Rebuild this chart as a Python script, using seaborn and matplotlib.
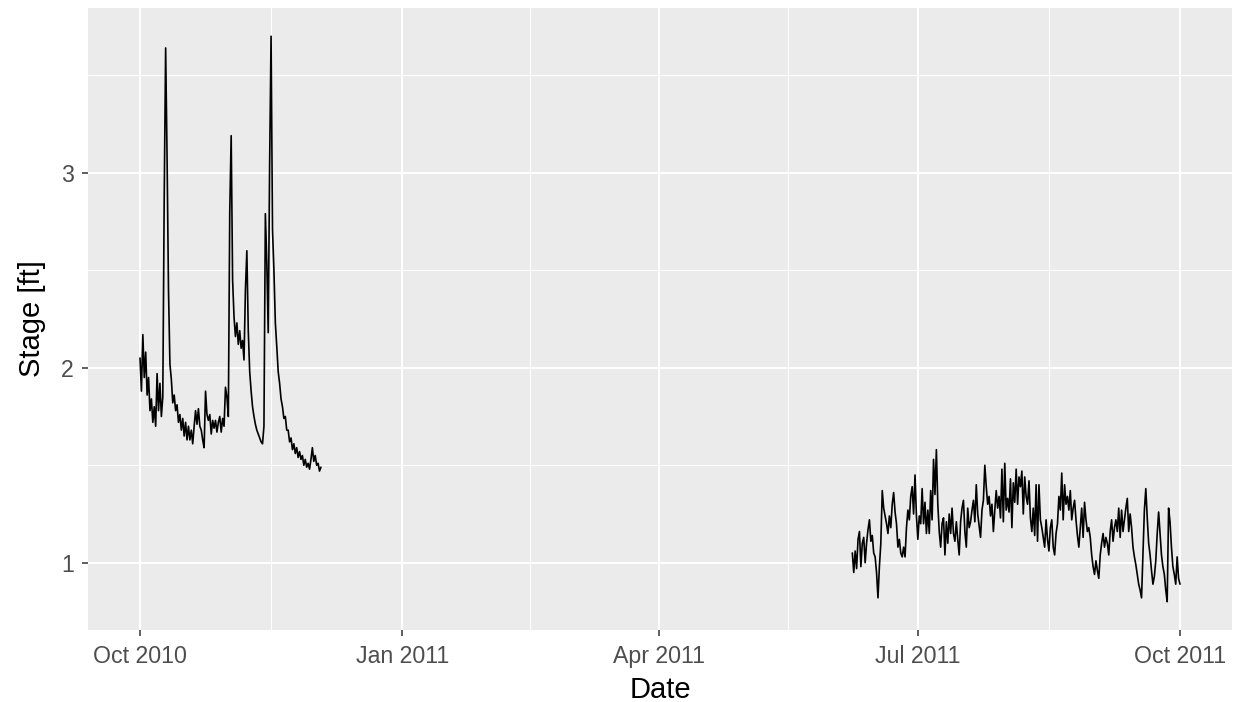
import numpy as np
import pandas as pd
import matplotlib
matplotlib.use("Agg")
import matplotlib.pyplot as plt
import matplotlib.dates as mdates
from matplotlib.ticker import FixedLocator
import seaborn as sns

# ---------------- data (12-hourly stage readings, ft) ----------------
fall_start = "2010-10-01"
fall_stage = [
    2.05, 1.88, 2.17, 1.95, 2.08, 1.86, 1.95, 1.78, 1.84, 1.72,
    1.80, 1.70, 1.97, 1.78, 1.92, 1.75, 1.85, 2.88, 3.64, 3.08,
    2.40, 2.02, 1.94, 1.82, 1.86, 1.78, 1.81, 1.72, 1.76, 1.68,
    1.74, 1.65, 1.72, 1.63, 1.70, 1.63, 1.68, 1.61, 1.70, 1.78,
    1.71, 1.79, 1.70, 1.68, 1.63, 1.59, 1.88, 1.76, 1.73, 1.76,
    1.66, 1.73, 1.69, 1.73, 1.67, 1.72, 1.75, 1.67, 1.74, 1.70,
    1.90, 1.85, 1.75, 2.80, 3.19, 2.45, 2.26, 2.16, 2.23, 2.12,
    2.19, 2.10, 2.14, 2.04, 2.40, 2.60, 2.19, 1.98, 1.88, 1.80,
    1.75, 1.71, 1.68, 1.66, 1.64, 1.62, 1.61, 1.70, 2.79, 2.54,
    2.18, 3.05, 3.70, 2.71, 2.50, 2.23, 2.11, 1.98, 1.92, 1.84,
    1.80, 1.74, 1.75, 1.68, 1.68, 1.62, 1.64, 1.58, 1.61, 1.56,
    1.59, 1.54, 1.57, 1.53, 1.55, 1.50, 1.53, 1.49, 1.51, 1.48,
    1.53, 1.59, 1.52, 1.55, 1.50, 1.51, 1.47, 1.49,
]

summer_start = "2011-06-08"
summer_stage = [
    1.05, 0.95, 1.06, 0.97, 1.12, 1.16, 0.98, 1.10, 1.13, 1.00,
    1.10, 1.17, 1.22, 1.11, 1.14, 1.05, 1.03, 0.95, 0.82, 0.98,
    1.10, 1.37, 1.28, 1.24, 1.20, 1.15, 1.24, 1.18, 1.30, 1.36,
    1.26, 1.20, 1.08, 1.12, 1.05, 1.03, 1.08, 1.03, 1.18, 1.27,
    1.22, 1.34, 1.39, 1.25, 1.45, 1.24, 1.12, 1.24, 1.20, 1.38,
    1.20, 1.31, 1.15, 1.27, 1.15, 1.37, 1.22, 1.53, 1.35, 1.58,
    1.30, 1.16, 1.08, 1.20, 1.23, 1.04, 1.21, 1.10, 1.25, 1.15,
    1.28, 1.15, 1.11, 1.21, 1.12, 1.04, 1.21, 1.28, 1.32, 1.16,
    1.08, 1.28, 1.18, 1.21, 1.27, 1.32, 1.21, 1.40, 1.25, 1.19,
    1.13, 1.27, 1.32, 1.50, 1.39, 1.30, 1.34, 1.24, 1.30, 1.16,
    1.27, 1.37, 1.28, 1.34, 1.23, 1.48, 1.21, 1.51, 1.27, 1.33,
    1.26, 1.43, 1.18, 1.41, 1.31, 1.48, 1.30, 1.44, 1.39, 1.47,
    1.25, 1.44, 1.34, 1.30, 1.42, 1.23, 1.16, 1.28, 1.14, 1.40,
    1.11, 1.40, 1.22, 1.18, 1.13, 1.08, 1.22, 1.12, 1.06, 1.18,
    1.22, 1.08, 1.04, 1.15, 1.20, 1.34, 1.27, 1.46, 1.22, 1.40,
    1.30, 1.34, 1.27, 1.37, 1.22, 1.28, 1.32, 1.22, 1.14, 1.08,
    1.18, 1.28, 1.13, 1.31, 1.22, 1.16, 1.18, 1.13, 1.04, 0.98,
    0.94, 1.01, 0.96, 0.92, 1.04, 1.10, 1.15, 1.08, 1.13, 1.10,
    1.04, 1.16, 1.22, 1.11, 1.18, 1.22, 1.16, 1.28, 1.13, 1.27,
    1.16, 1.22, 1.28, 1.33, 1.16, 1.25, 1.18, 1.08, 1.03, 0.99,
    0.94, 0.89, 0.86, 0.82, 1.04, 1.27, 1.38, 1.23, 1.10, 1.04,
    0.96, 0.89, 0.93, 1.01, 1.15, 1.26, 1.15, 1.04, 0.98, 0.94,
    0.86, 0.80, 1.28, 1.21, 1.08, 0.98, 0.94, 0.89, 1.03, 0.92,
    0.89,
]

x_breaks = ["2010-10-01", "2011-01-01", "2011-04-01", "2011-07-01", "2011-10-01"]
y_breaks = [1, 2, 3]
y_minor = [1.5, 2.5, 3.5]
x_title = "Date"
y_title = "Stage [ft]"

df = pd.concat([
    pd.DataFrame({"Date": pd.date_range(fall_start, periods=len(fall_stage), freq="12h"),
                  "Stage": fall_stage, "seg": 0}),
    pd.DataFrame({"Date": pd.date_range(summer_start, periods=len(summer_stage), freq="12h"),
                  "Stage": summer_stage, "seg": 1}),
], ignore_index=True)

# ---------------- style (ggplot2 theme_gray look) ----------------
sns.set_theme(style="darkgrid")
plt.rcParams["font.family"] = ["Liberation Sans", "DejaVu Sans"]

W, H = 1235, 702
fig = plt.figure(figsize=(W / 100, H / 100), dpi=100)
fig.patch.set_facecolor("white")
left, right, top, bottom = 88, 1232, 8, 630
ax = fig.add_axes([left / W, 1 - bottom / H, (right - left) / W, (bottom - top) / H])
ax.set_facecolor("#EBEBEB")

sns.lineplot(data=df, x="Date", y="Stage", units="seg", estimator=None,
             sort=False, color="black", linewidth=1.2, ax=ax)

# limits with 5% expansion like ggplot
xn = mdates.date2num(df["Date"])
xr = xn.max() - xn.min()
ax.set_xlim(xn.min() - 0.05 * xr, xn.max() + 0.05 * xr)
yv = df["Stage"].to_numpy()
yr = yv.max() - yv.min()
ax.set_ylim(yv.min() - 0.05 * yr, yv.max() + 0.05 * yr)

xb = mdates.date2num(pd.to_datetime(x_breaks))
ax.xaxis.set_major_locator(FixedLocator(xb))
ax.xaxis.set_major_formatter(mdates.DateFormatter("%b %Y"))
ax.xaxis.set_minor_locator(FixedLocator((xb[:-1] + xb[1:]) / 2))
ax.yaxis.set_major_locator(FixedLocator(y_breaks))
ax.yaxis.set_minor_locator(FixedLocator(y_minor))
ax.set_yticklabels([str(v) for v in y_breaks])

ax.grid(which="major", color="white", linewidth=1.5)
ax.grid(which="minor", color="white", linewidth=0.75)
for s in ax.spines.values():
    s.set_visible(False)

ax.tick_params(which="major", bottom=True, left=True, length=4, width=1.1,
               color="#333333", labelsize=16.7, labelcolor="#4D4D4D")
ax.tick_params(axis="x", which="major", pad=6.5)
ax.tick_params(axis="y", which="major", pad=6)
ax.tick_params(which="minor", length=0)

ax.set_xlabel(x_title, fontsize=21, color="black", labelpad=6)
ax.set_ylabel(y_title, fontsize=21, color="black", labelpad=11)

fig.savefig("out.png", dpi=100, facecolor="white")
